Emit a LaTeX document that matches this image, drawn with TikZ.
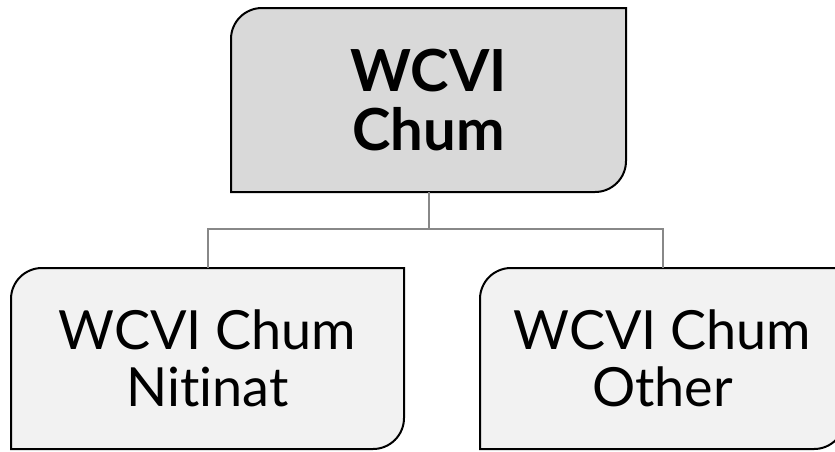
\documentclass[tikz,border=0pt]{standalone}
\usepackage{fontspec}
\setmainfont{Lato}[Ligatures=NoCommon]
\usetikzlibrary{backgrounds}
\definecolor{headfill}{HTML}{D9D9D9}
\definecolor{leaffill}{HTML}{F2F2F2}
\definecolor{linkgray}{HTML}{888888}
\tikzset{
    box/.style={
        rectangle,
        inner sep=0pt,
        outer sep=0pt,
        align=center
    },
    headbox/.style={
        box,
        minimum width=395pt,
        minimum height=184pt,
        font=\bfseries\fontsize{58}{59}\selectfont
    },
    leafbox/.style={
        box,
        minimum height=181pt,
        font=\fontsize{54}{57}\selectfont
    },
    outline/.style={
        draw=black,
        line width=2pt
    },
    link/.style={
        draw=linkgray,
        line width=2pt
    }
}
\newcommand{\tabbox}[2]{%
  \path[outline,fill=#2] (#1.west) [rounded corners=31pt] |- (#1.north)
    [sharp corners] -| (#1.east) [rounded corners=31pt] |- (#1.south)
    [sharp corners] -| (#1.west) -- cycle;}

\begin{document}
\begin{tikzpicture}[x=1pt,y=-1pt]
\useasboundingbox (0,0) rectangle (835,451);
\node[headbox] (wcvi) at (428.5,100) {WCVI\\Chum};
\node[leafbox,minimum width=393pt] (nitinat) at (207.5,358.5) {WCVI Chum\\Nitinat};
\node[leafbox,minimum width=365pt] (other) at (662.5,358.5) {WCVI Chum\\Other};
\begin{scope}[on background layer]
  \tabbox{wcvi}{headfill}
  \tabbox{nitinat}{leaffill}
  \tabbox{other}{leaffill}
\end{scope}
\draw[link] (wcvi.south) -- ++(0,37) coordinate (fork);
\draw[link] (fork) -| (nitinat.north);
\draw[link] (fork) -| (other.north);
\end{tikzpicture}
\end{document}
